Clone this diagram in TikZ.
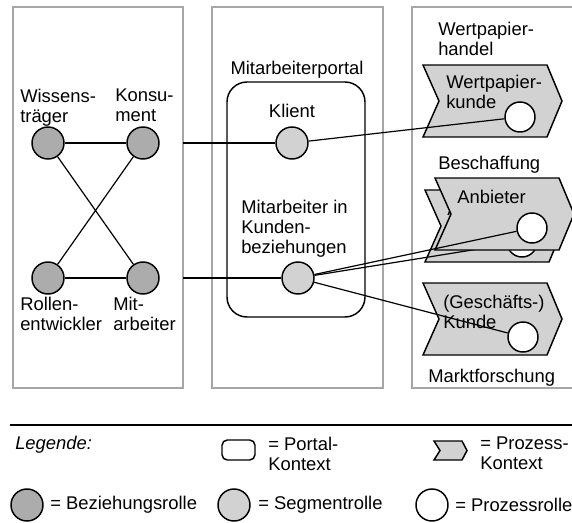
\documentclass[tikz,border=0pt]{standalone}
\usepackage{fontspec}
\setmainfont{Liberation Sans}
\tikzset{
  panel/.style={draw=gray!70, line width=1.1pt},
  verb/.style={line width=0.9pt},
  rolle/.style={circle, draw, line width=1.1pt, minimum size=24pt, inner sep=0pt},
  bezrolle/.style={rolle, fill=gray!65},
  segrolle/.style={rolle, fill=gray!35},
  prozrolle/.style={rolle, fill=white, minimum size=22.5pt},
  txt/.style={inner sep=0pt, align=left, anchor=north west},
  prozess/.pic={
    \draw[line width=1.1pt, fill=gray!35] (0,0) -- (124,0) -- (139,36) -- (124,72)
      -- (0,72) -- (16,36) -- cycle;}
}
\begin{document}
\begin{tikzpicture}[x=0.75pt, y=-0.75pt,
    every node/.style={font=\fontsize{13.8}{15}\selectfont}]
  \useasboundingbox (0,0) rectangle (572,522);

  % Rahmen
  \draw[panel] (13,7) rectangle (183,388);
  \draw[panel] (212,7) rectangle (383,388);
  \draw[panel] (412,7) rectangle (576,388);
  \coordinate (randlinks) at (183,0);

  % Beziehungsrollen
  \node[bezrolle] (wiss) at (48,143) {};
  \node[bezrolle] (kons) at (143,143) {};
  \node[bezrolle] (roll) at (48,278) {};
  \node[bezrolle] (mit) at (143,278) {};
  \node[txt] (wisslabel) at (20,89) {Wissens-\\träger};
  \node[txt] (konslabel) at (115,89) {Konsu-\\ment};
  \node[txt] (rolllabel) at (20,297) {Rollen-\\entwickler};
  \node[txt] (mitlabel) at (113,297) {Mit-\\arbeiter};

  \draw[verb] (wiss) -- (kons);
  \draw[verb] (roll) -- (mit);
  \draw[verb] (wiss) -- (mit);
  \draw[verb] (kons) -- (roll);

  % Portal
  \node (portallabel) at (297,70) {Mitarbeiterportal};
  \draw[line width=1.1pt, rounded corners=15] (227,82) rectangle (365,317);
  \node[segrolle] (klient) at (292,143) {};
  \node[segrolle] (mik) at (298,278) {};
  \node (klientlabel) at (292,111) {Klient};
  \node[txt] (miklabel) at (241,200) {Mitarbeiter in\\Kunden-\\beziehungen};

  \draw[verb] (randlinks |- kons) -- (klient);
  \draw[verb] (randlinks |- mit) -- (mik);

  % Prozesse
  \node[txt] (wphlabel) at (438,22) {Wertpapier-\\handel};
  \pic at (423,65) {prozess};
  \node[txt] (wpklabel) at (446,75) {Wertpapier-\\kunde};
  \node[prozrolle] (wpk) at (520,117) {};
  \draw[verb] (klient) -- (wpk);

  \node[txt] (beschlabel) at (438,156) {Beschaffung};
  \pic at (425,190) {prozess};
  \node[txt] (anb2label) at (447,202) {Anbieter};
  \node[prozrolle] (anb2) at (522,242) {};
  \draw[verb] (mik) -- (anb2);
  \pic at (435,178) {prozess};
  \node[txt] (anblabel) at (457,190) {Anbieter};
  \node[prozrolle] (anb) at (532,228) {};
  \draw[verb] (mik) -- (anb);

  \pic at (423,283) {prozess};
  \node[txt] (kundlabel) at (443,295) {(Geschäfts-)\\Kunde};
  \node[prozrolle] (kund) at (523,337) {};
  \draw[verb] (mik) -- (kund);
  \node[anchor=west, inner sep=0pt] (marktlabel) at (428,378) {Marktforschung};

  % Legende
  \draw[line width=1.1pt] (10,425) -- (576,425);
  \node[anchor=west, inner sep=0pt] (legende) at (15,445) {\itshape Legende:};
  \draw[line width=1.1pt, rounded corners=4] (222,440) rectangle (255,460);
  \node[txt] (portalkontext) at (268,437) {= Portal-\\Kontext};
  \draw[line width=1.1pt, fill=gray!35] (434,441) -- (462,441) -- (467,450.5)
    -- (462,460) -- (434,460) -- (440,450.5) -- cycle;
  \node[txt] (prozkontext) at (480,437) {= Prozess-\\Kontext};
  \node[bezrolle] (legbez) at (27,505) {};
  \node[anchor=west, inner sep=0pt] at (50,505) {= Beziehungsrolle};
  \node[segrolle] (legseg) at (234,505) {};
  \node[anchor=west, inner sep=0pt] at (258,505) {= Segmentrolle};
  \node[prozrolle, minimum size=24pt] (legproz) at (432,505) {};
  \node[anchor=west, inner sep=0pt] at (455,505) {= Prozessrolle};
\end{tikzpicture}
\end{document}
